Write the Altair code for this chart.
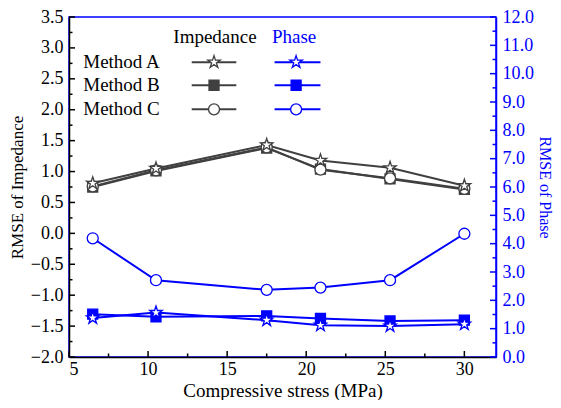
import altair as alt
import pandas as pd

# ---------------- data ----------------
x_vals = [6.5, 10.5, 17.5, 20.9, 25.3, 30.0]
methods = ["Method A", "Method B", "Method C"]
imp_A = [0.81, 1.05, 1.43, 1.18, 1.06, 0.77]
imp_B = [0.75, 1.01, 1.38, 1.04, 0.88, 0.71]
imp_C = [0.76, 1.02, 1.39, 1.03, 0.89, 0.72]
ph_A = [1.38, 1.57, 1.30, 1.12, 1.09, 1.16]
ph_B = [1.51, 1.42, 1.45, 1.36, 1.27, 1.30]
ph_C = [4.19, 2.71, 2.37, 2.45, 2.71, 4.35]

x_major = [5, 10, 15, 20, 25, 30]
x_minor = [7.5, 12.5, 17.5, 22.5, 27.5]
left_major = [-2.0, -1.5, -1.0, -0.5, 0.0, 0.5, 1.0, 1.5, 2.0, 2.5, 3.0, 3.5]
left_minor = [-1.75, -1.25, -0.75, -0.25, 0.25, 0.75, 1.25, 1.75, 2.25, 2.75, 3.25]
right_major = [0, 1, 2, 3, 4, 5, 6, 7, 8, 9, 10, 11, 12]
right_minor = [0.5, 1.5, 2.5, 3.5, 4.5, 5.5, 6.5, 7.5, 8.5, 9.5, 10.5, 11.5]

# legend layout (in data units)
leg_rows_y = [2.77, 2.396, 2.006]
leg_head_y = 3.175
leg_text_x = 5.9
leg_imp = (12.76, 14.17, 15.58)
leg_ph = (18.0, 19.36, 20.9)
leg_head_x = (14.23, 19.23)

# ---------------- style ----------------
GRAY = "#404040"
BLUE = "#0000FF"
FONT = "Liberation Serif"
STAR = ("M0,-1L0.223,-0.307L0.951,-0.309L0.361,0.117L0.588,0.809L0,0.38"
        "L-0.588,0.809L-0.361,0.117L-0.951,-0.309L-0.223,-0.307Z")
SHAPE = {"Method A": STAR, "Method B": "square", "Method C": "circle"}
SIZE = {"Method A": 170, "Method B": 100, "Method C": 121}

xs = alt.Scale(domain=[5, 32], nice=False, zero=False)
yl = alt.Scale(domain=[-2, 3.5], nice=False, zero=False)
yr = alt.Scale(domain=[0, 12], nice=False, zero=False)

X_BOTTOM = alt.Axis(title="Compressive stress (MPa)", values=x_major, format="d",
                    ticks=False, grid=False, domainColor="black", domainWidth=1.5,
                    labelFont=FONT, labelFontSize=18, labelColor="black", labelPadding=3,
                    titleFont=FONT, titleFontSize=19, titleFontWeight="normal",
                    titleColor="black", titlePadding=3)
Y_LEFT = alt.Axis(title="RMSE of  Impedance", values=left_major, format=".1f",
                  ticks=False, grid=False, domainColor="black", domainWidth=1.5,
                  labelFont=FONT, labelFontSize=18, labelColor="black", labelPadding=6,
                  titleFont=FONT, titleFontSize=17, titleFontWeight="normal",
                  titleColor="black", titlePadding=4)
Y_RIGHT = alt.Axis(orient="right", title="RMSE of  Phase", values=right_major, format=".1f",
                   ticks=False, grid=False, domainColor=BLUE, domainWidth=1.5,
                   labelFont=FONT, labelFontSize=18, labelColor=BLUE, labelPadding=6,
                   titleFont=FONT, titleFontSize=16, titleFontWeight="normal",
                   titleColor=BLUE, titlePadding=3)

def series_df(vals):
    rows = []
    for m, v in zip(methods, vals):
        for x, y in zip(x_vals, v):
            rows.append({"x": x, "v": y, "method": m})
    return pd.DataFrame(rows)

imp_df = series_df([imp_A, imp_B, imp_C])
ph_df = series_df([ph_A, ph_B, ph_C])


def group_layers(df, color, yscale, yaxis):
    X = alt.X("x:Q", scale=xs, axis=X_BOTTOM)
    Y = alt.Y("v:Q", scale=yscale, axis=yaxis)
    layers = [alt.Chart(df).mark_line(color=color, strokeWidth=2).encode(
        x=X, y=Y, detail="method:N")]
    for m in ["Method B", "Method C", "Method A"]:
        fill = color if m == "Method B" else "white"
        layers.append(alt.Chart(df[df.method == m]).mark_point(
            shape=SHAPE[m], size=SIZE[m], filled=True, fill=fill, stroke=color,
            strokeWidth=1.3, opacity=1).encode(x=X, y=Y))
    return layers

# ---------------- left (impedance) group ----------------
XL = lambda f: alt.X(f, scale=xs, axis=X_BOTTOM)
YL = lambda f: alt.Y(f, scale=yl, axis=Y_LEFT)

left_layers = group_layers(imp_df, GRAY, yl, Y_LEFT)

# legend
text_df = pd.DataFrame({"label": methods, "x": [leg_text_x] * 3, "v": leg_rows_y})
left_layers.append(alt.Chart(text_df).mark_text(
    align="left", baseline="middle", font=FONT, fontSize=19, color="black").encode(
    x=XL("x:Q"), y=YL("v:Q"), text="label:N"))
head_df = pd.DataFrame({"label": ["Impedance", "Phase"], "x": list(leg_head_x),
                        "v": [leg_head_y] * 2, "c": ["black", BLUE]})
left_layers.append(alt.Chart(head_df).mark_text(
    align="center", baseline="middle", font=FONT, fontSize=19).encode(
    x=XL("x:Q"), y=YL("v:Q"), text="label:N", color=alt.Color("c:N", scale=None)))
for (x0, xm, x1), color in [(leg_imp, GRAY), (leg_ph, BLUE)]:
    seg = pd.DataFrame({"x": [x0] * 3, "x2": [x1] * 3, "xm": [xm] * 3,
                        "v": leg_rows_y, "method": methods})
    left_layers.append(alt.Chart(seg).mark_rule(color=color, strokeWidth=2).encode(
        x=XL("x:Q"), x2="x2:Q", y=YL("v:Q")))
    for m in methods:
        fill = color if m == "Method B" else "white"
        left_layers.append(alt.Chart(seg[seg.method == m]).mark_point(
            shape=SHAPE[m], size=SIZE[m], filled=True, fill=fill, stroke=color,
            strokeWidth=1.3, opacity=1).encode(x=XL("xm:Q"), y=YL("v:Q")))

# hand-drawn inward ticks
lmaj = pd.DataFrame({"t": left_major})
lmin = pd.DataFrame({"t": left_minor})
left_layers.append(alt.Chart(lmaj).mark_rule(color="black", strokeWidth=1.5).encode(
    y=YL("t:Q"), x=alt.value(0), x2=alt.value(6)))
left_layers.append(alt.Chart(lmin).mark_rule(color="black", strokeWidth=1.5).encode(
    y=YL("t:Q"), x=alt.value(0), x2=alt.value(3.5)))
xmaj = pd.DataFrame({"t": x_major})
xmin = pd.DataFrame({"t": x_minor})
left_layers.append(alt.Chart(xmaj).mark_rule(color="black", strokeWidth=1.5).encode(
    x=XL("t:Q"), y=alt.value("height"), y2=alt.value({"expr": "height - 6"})))
left_layers.append(alt.Chart(xmin).mark_rule(color="black", strokeWidth=1.5).encode(
    x=XL("t:Q"), y=alt.value("height"), y2=alt.value({"expr": "height - 3.5"})))

left_group = alt.layer(*left_layers)

# ---------------- right (phase) group ----------------
right_layers = group_layers(ph_df, BLUE, yr, Y_RIGHT)
rmaj = pd.DataFrame({"t": right_major})
rmin = pd.DataFrame({"t": right_minor})
right_layers.append(alt.Chart(rmaj).mark_rule(color=BLUE, strokeWidth=1.5).encode(
    y=alt.Y("t:Q", scale=yr, axis=Y_RIGHT), x=alt.value("width"),
    x2=alt.value({"expr": "width - 6"})))
right_layers.append(alt.Chart(rmin).mark_rule(color=BLUE, strokeWidth=1.5).encode(
    y=alt.Y("t:Q", scale=yr, axis=Y_RIGHT), x=alt.value("width"),
    x2=alt.value({"expr": "width - 3.5"})))
right_group = alt.layer(*right_layers)

chart = alt.layer(left_group, right_group).resolve_scale(y="independent").properties(
    width=545, height=392,
    autosize=alt.AutoSizeParams(type="fit", contains="padding"),
    padding={"left": 0, "top": 0, "right": 0, "bottom": 0},
    background="white"
).configure(font=FONT).configure_view(stroke=BLUE, strokeWidth=1.5)

chart.save("out.html", embed_options={"renderer": "svg", "actions": False})
